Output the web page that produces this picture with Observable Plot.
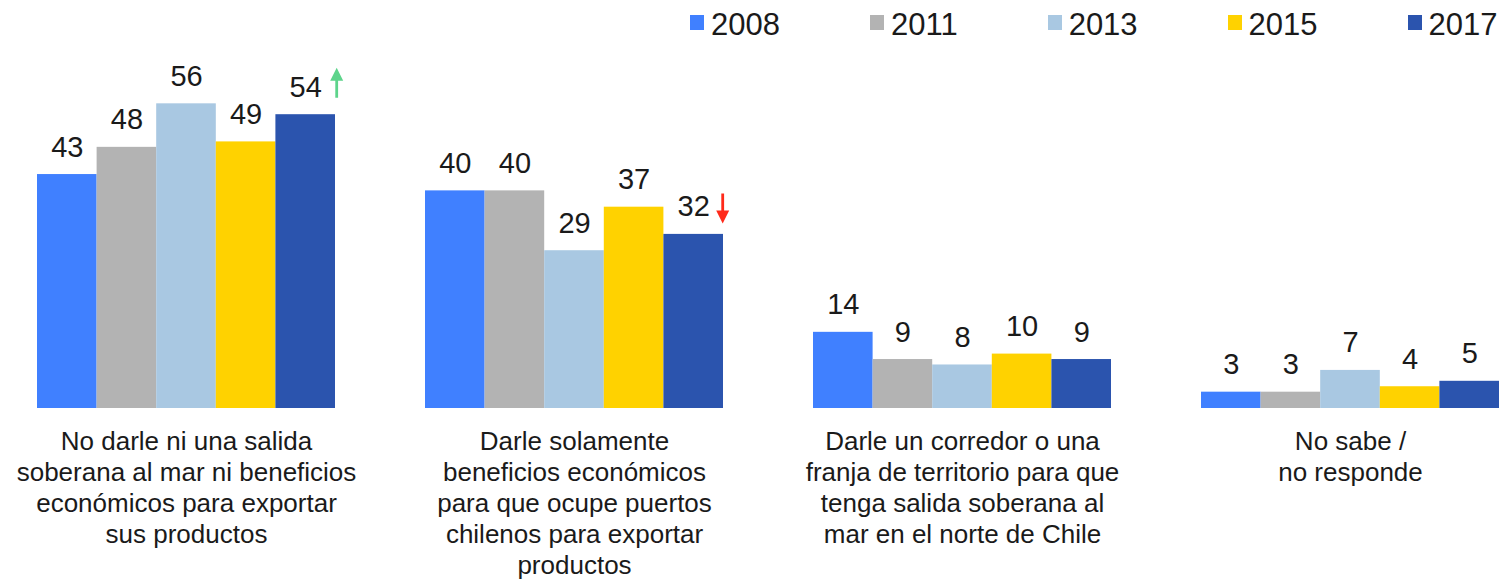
<!DOCTYPE html>
<html>
<head>
<meta charset="utf-8">
<script src="https://cdn.jsdelivr.net/npm/d3@7"></script>
<script src="https://cdn.jsdelivr.net/npm/@observablehq/plot@0.6"></script>
<style>
  html, body { margin: 0; padding: 0; background: #fff; overflow: hidden; }
  body { font-family: "Liberation Sans", Arial, sans-serif; color: #1a1a1a; width: 1501px; }
  #legend { display: flex; height: 50px; padding-left: 690px; gap: 90px; box-sizing: border-box; padding-top: 10px; }
  .item { display: flex; align-items: flex-start; }
  .sw { width: 14px; height: 15px; margin-top: 5px; margin-right: 7px; }
  .lbl { font-size: 31px; line-height: 30px; }
</style>
</head>
<body>
<div id="legend"></div>
<div id="chart"></div>
<script>
const categories = [
  "No darle ni una salida\nsoberana al mar ni beneficios\neconómicos para exportar\nsus productos",
  "Darle solamente\nbeneficios económicos\npara que ocupe puertos\nchilenos para exportar\nproductos",
  "Darle un corredor o una\nfranja de territorio para que\ntenga salida soberana al\nmar en el norte de Chile",
  "No sabe /\nno responde"
];
const years = ["2008", "2011", "2013", "2015", "2017"];
const v2008 = [43, 40, 14, 3];
const v2011 = [48, 40, 9, 3];
const v2013 = [56, 29, 8, 7];
const v2015 = [49, 37, 10, 4];
const v2017 = [54, 32, 9, 5];
const trend2017 = ["up", "down", "", ""];
const colors = ["#4080ff", "#b3b3b3", "#a9c8e2", "#ffd200", "#2b54ae"];

const series = [v2008, v2011, v2013, v2015, v2017];
const rows = [];
categories.forEach((c, i) => {
  years.forEach((y, j) => rows.push({cat: c, year: y, value: series[j][i]}));
});
const upRows = categories.map((c, i) => ({cat: c, year: "2017", value: v2017[i], t: trend2017[i]})).filter(d => d.t === "up");
const downRows = categories.map((c, i) => ({cat: c, year: "2017", value: v2017[i], t: trend2017[i]})).filter(d => d.t === "down");

// legend
const legend = document.getElementById("legend");
years.forEach((y, j) => {
  const it = document.createElement("div");
  it.className = "item";
  it.innerHTML = `<div class="sw" style="background:${colors[j]}"></div><div class="lbl">${y}</div>`;
  legend.appendChild(it);
});

const arrowUp = {draw(ctx) {
  const h = 15, hw = 6.5, hh = 13, sw = 1.4;
  ctx.moveTo(0, -h); ctx.lineTo(hw, -h + hh); ctx.lineTo(sw, -h + hh); ctx.lineTo(sw, h);
  ctx.lineTo(-sw, h); ctx.lineTo(-sw, -h + hh); ctx.lineTo(-hw, -h + hh); ctx.closePath();
}};
const arrowDown = {draw(ctx) {
  const h = 15, hw = 6.5, hh = 13, sw = 1.4;
  ctx.moveTo(0, h); ctx.lineTo(hw, h - hh); ctx.lineTo(sw, h - hh); ctx.lineTo(sw, -h);
  ctx.lineTo(-sw, -h); ctx.lineTo(-sw, h - hh); ctx.lineTo(-hw, h - hh); ctx.closePath();
}};

const chart = Plot.plot({
  width: 1501,
  height: 529,
  marginTop: 0,
  marginLeft: 37,
  marginRight: 2,
  marginBottom: 171,
  style: {fontFamily: "'Liberation Sans', Arial, sans-serif", background: "#fff", color: "#1a1a1a"},
  fx: {domain: categories, paddingInner: 90 / 388, paddingOuter: 0, axis: null, round: false},
  x: {domain: years, padding: 0, axis: null, round: false},
  y: {domain: [0, 65.8], axis: null},
  color: {domain: years, range: colors},
  marks: [
    Plot.barY(rows, {fx: "cat", x: "year", y: "value", fill: "year"}),
    Plot.text(rows, {fx: "cat", x: "year", y: "value", text: d => String(d.value), lineAnchor: "bottom", dy: -18, fontSize: 29, fill: "#1a1a1a"}),
    Plot.dot(upRows, {fx: "cat", x: "year", y: "value", symbol: arrowUp, fill: "#5dd48b", stroke: "none", dx: 31, dy: -32}),
    Plot.dot(downRows, {fx: "cat", x: "year", y: "value", symbol: arrowDown, fill: "#ff2a1a", stroke: "none", dx: 29, dy: -26}),
    Plot.text(categories, {fx: d => d, text: d => d, frameAnchor: "bottom", lineAnchor: "top", dy: 20, fontSize: 26, lineHeight: 1.19, fill: "#1a1a1a"})
  ]
});
document.getElementById("chart").appendChild(chart);
</script>
</body>
</html>
